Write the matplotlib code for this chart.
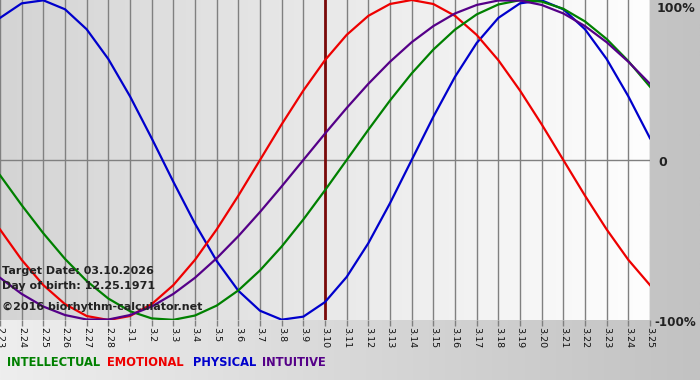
import numpy as np
import matplotlib
matplotlib.use('Agg')
import matplotlib.pyplot as plt

# day labels, 2.23 .. 3.25
dates = ['2.23', '2.24', '2.25', '2.26', '2.27', '2.28', '3.1', '3.2', '3.3', '3.4',
         '3.5', '3.6', '3.7', '3.8', '3.9', '3.10', '3.11', '3.12', '3.13', '3.14',
         '3.15', '3.16', '3.17', '3.18', '3.19', '3.20', '3.21', '3.22', '3.23', '3.24', '3.25']

physical = [0.888, 0.979, 0.998, 0.942, 0.817, 0.631, 0.398, 0.136, -0.136, -0.398,
            -0.631, -0.817, -0.942, -0.998, -0.979, -0.888, -0.731, -0.520, -0.270, 0.0,
            0.270, 0.520, 0.731, 0.888, 0.979, 0.998, 0.942, 0.817, 0.631, 0.398, 0.136]
emotional = [-0.434, -0.624, -0.782, -0.901, -0.975, -1.0, -0.975, -0.901, -0.782, -0.624,
             -0.434, -0.223, 0.0, 0.223, 0.434, 0.624, 0.782, 0.901, 0.975, 1.0,
             0.975, 0.901, 0.782, 0.624, 0.434, 0.223, 0.0, -0.223, -0.434, -0.624, -0.782]
intellectual = [-0.095, -0.282, -0.458, -0.618, -0.756, -0.866, -0.945, -0.990, -0.999, -0.972,
                -0.910, -0.815, -0.690, -0.541, -0.372, -0.189, 0.0, 0.189, 0.372, 0.541,
                0.690, 0.815, 0.910, 0.972, 0.999, 0.990, 0.945, 0.866, 0.756, 0.618, 0.458]
intuitive = [-0.736, -0.837, -0.916, -0.969, -0.997, -0.997, -0.969, -0.916, -0.837, -0.736,
             -0.614, -0.476, -0.325, -0.165, 0.0, 0.165, 0.325, 0.476, 0.614, 0.736,
             0.837, 0.916, 0.969, 0.997, 0.997, 0.969, 0.916, 0.837, 0.736, 0.614, 0.476]

target_index = 15

fig = plt.figure(figsize=(7, 3.8), dpi=100)

# figure background gradient
bg = fig.add_axes([0, 0, 1, 1])
grad = np.linspace(0, 1, 256).reshape(1, -1)
bg.imshow(grad, aspect='auto', cmap=matplotlib.colors.LinearSegmentedColormap.from_list(
    'bg', ['#eeeeee', '#c2c2c2']), extent=[0, 1, 0, 1])
bg.axis('off')

ax = fig.add_axes([0, 60 / 380, 650 / 700, 320 / 380])
x = np.arange(len(dates))
ax.set_xlim(0, len(dates) - 1)
ax.set_ylim(-1.0, 1.0)

# plot area gradient
ax.imshow(grad, aspect='auto', cmap=matplotlib.colors.LinearSegmentedColormap.from_list(
    'pa', ['#d4d4d4', '#fefefe']), extent=[0, len(dates) - 1, -1, 1], zorder=0)

for xi in x:
    ax.axvline(xi, color='#808080', lw=1, zorder=1)
ax.axhline(0, color='#808080', lw=1, zorder=1)
ax.axvline(target_index, color='#7a0a0a', lw=2, zorder=1)

ax.plot(x, physical, color='#0000cc', lw=1.6, zorder=3)
ax.plot(x, emotional, color='#ee0000', lw=1.6, zorder=3)
ax.plot(x, intellectual, color='#008000', lw=1.6, zorder=3)
ax.plot(x, intuitive, color='#550088', lw=1.6, zorder=3)

for s in ax.spines.values():
    s.set_visible(False)
ax.set_yticks([])
ax.set_xticks(x)
ax.set_xticklabels(dates, rotation=270, fontsize=6.8, color='#111111')
ax.tick_params(axis='x', length=4, width=1, color='#808080', pad=1)

txt = dict(fontsize=8, fontweight='bold', color='#222222', transform=ax.transAxes)
ax.text(2 / 650, 1 - 271 / 320, 'Target Date: 03.10.2026', va='center', ha='left', **txt)
ax.text(2 / 650, 1 - 286 / 320, 'Day of birth: 12.25.1971', va='center', ha='left', **txt)
ax.text(2 / 650, 1 - 307 / 320, '\u00a92016 biorhythm-calculator.net', va='center', ha='left', **txt)

lab = dict(fontweight='bold', color='#222222', ha='left', va='center')
fig.text(657 / 700, 1 - 8 / 380, '100%', fontsize=9, **lab)
fig.text(658 / 700, 1 - 162 / 380, '0', fontsize=9, **lab)
fig.text(654 / 700, 1 - 322 / 380, '-100%', fontsize=8.6, **lab)

# legend row
leg_y = 1 - 362 / 380
names = ['INTELLECTUAL', 'EMOTIONAL', 'PHYSICAL', 'INTUITIVE']
colors = ['#008000', '#ee0000', '#0000cc', '#550088']
positions = [7, 107, 193, 262]
for name, c, px in zip(names, colors, positions):
    fig.text(px / 700, leg_y, name, fontsize=8.3, fontweight='bold', color=c, ha='left', va='center')

fig.savefig('out.png', dpi=100)
